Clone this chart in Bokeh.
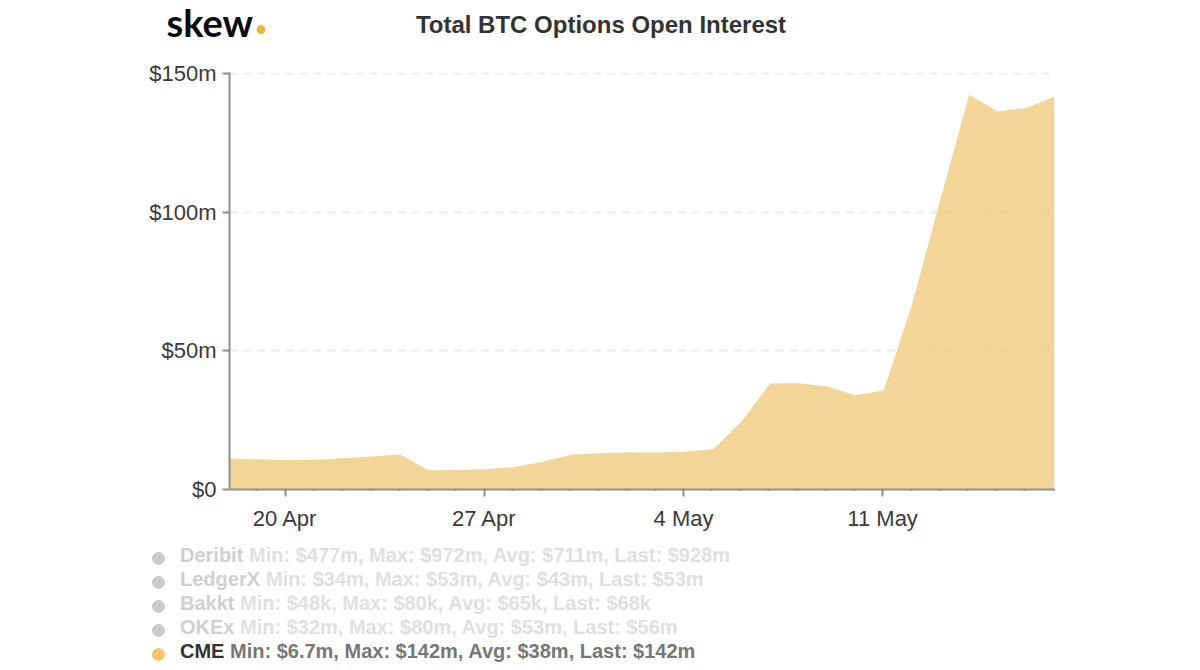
import pandas as pd
from bokeh.core.properties import value
from bokeh.embed import file_html
from bokeh.layouts import column, row
from bokeh.models import ColumnDataSource, FixedTicker, Range1d
from bokeh.plotting import figure
from bokeh.resources import INLINE

dates = pd.date_range("2020-04-18 01:00", "2020-05-17 01:00", freq="D").tolist()
cme = [11.2, 10.9, 10.6, 10.7, 11.3, 11.9, 12.6, 6.9, 7.0, 7.3, 8.1, 10.0, 12.5, 13.1, 13.4, 13.3,
       13.6, 14.5, 24.5, 38.2, 38.3, 37.2, 34.0, 35.8, 67.0, 105.0, 142.3, 136.3, 137.5, 141.7]
y_ticks = [0, 50, 100, 150]
y_labels = ["$0", "$50m", "$100m", "$150m"]
x_ticks = ["2020-04-20", "2020-04-27", "2020-05-04", "2020-05-11"]
x_labels = ["20 Apr", "27 Apr", "4 May", "11 May"]
minor_days = pd.date_range("2020-04-19", "2020-05-17", freq="D").tolist()
exchanges = ["Deribit", "LedgerX", "Bakkt", "OKEx", "CME"]
stats = ["Min: $477m, Max: $972m, Avg: $711m, Last: $928m",
         "Min: $34m, Max: $53m, Avg: $43m, Last: $53m",
         "Min: $48k, Max: $80k, Avg: $65k, Last: $68k",
         "Min: $32m, Max: $80m, Avg: $53m, Last: $56m",
         "Min: $6.7m, Max: $142m, Avg: $38m, Last: $142m"]
title = "Total BTC Options Open Interest"
logo = "skew"

FONT = "Liberation Sans"
W, H0, H1, H2 = 1184, 50, 490, 124
tick_ms = [pd.Timestamp(d).timestamp() * 1000 for d in x_ticks]


def strip(top, height):
    """A blank figure whose coordinates are the page's pixels."""
    f = figure(width=W, height=height, output_backend="svg", toolbar_location=None,
               x_range=Range1d(0, W), y_range=Range1d(top + height, top),
               min_border_left=0, min_border_right=0, min_border_top=0, min_border_bottom=0)
    f.axis.visible = False
    f.grid.visible = False
    f.outline_line_color = None
    return f


head = strip(0, H0)
head.text(x=[600.5], y=[23.5], text=[title], text_font=value(FONT), text_font_size="24px",
          text_font_style="bold", text_color="#333333", text_align="center", text_baseline="middle")
head.text(x=[166], y=[21.5], text=[logo], text_font=value("Lato"), text_font_size="38px",
          text_font_style="bold", text_color="#0a0a0a", text_align="left", text_baseline="middle")
head.scatter(x=[260.5], y=[29], size=8, color="#f0b33c")

# the frame reaches 1px above $150m so that the top grid line is drawn
p = figure(width=W, height=H1, output_backend="svg", toolbar_location=None,
           x_axis_type="datetime",
           x_range=Range1d(dates[0], dates[-1]), y_range=Range1d(0, 150.36),
           min_border_left=229, min_border_right=W - 1054, min_border_top=72 - H0,
           min_border_bottom=H0 + H1 - 489)
p.outline_line_color = None
p.varea(x=dates, y1=[0] * len(dates), y2=cme, fill_color="#f0c776", fill_alpha=0.75)

p.xgrid.visible = False
p.ygrid.ticker = FixedTicker(ticks=y_ticks)
p.ygrid.grid_line_color = "#ececec"
p.ygrid.grid_line_dash = [8, 6]
p.ygrid.grid_line_width = 2

p.yaxis.ticker = FixedTicker(ticks=y_ticks)
p.yaxis.major_label_overrides = dict(zip(y_ticks, y_labels))
p.xaxis.ticker = FixedTicker(ticks=tick_ms, minor_ticks=[d.timestamp() * 1000 for d in minor_days])
p.xaxis.major_label_overrides = dict(zip(tick_ms, x_labels))
for ax in (p.xaxis[0], p.yaxis[0]):
    ax.axis_line_color = "#8f8f8f"
    ax.axis_line_width = 2
    ax.major_tick_line_color = "#8f8f8f"
    ax.major_tick_line_width = 2
    ax.major_label_text_font = FONT
    ax.major_label_text_font_size = "22px"
    ax.major_label_text_color = "#3a3a3a"
p.yaxis.major_tick_in = 0
p.yaxis.major_tick_out = 7
p.yaxis.minor_tick_line_color = None
p.yaxis.major_label_standoff = 6
p.xaxis.major_tick_in = 0
p.xaxis.major_tick_out = 7
p.xaxis.minor_tick_in = 0
p.xaxis.minor_tick_out = 1
p.xaxis.minor_tick_line_color = "#777777"
p.xaxis.minor_tick_line_width = 2
p.xaxis.major_label_standoff = 9

leg = strip(H0 + H1, H2)
row_y = [554, 578, 602, 626, 650]
dot_colors = ["#cccccc", "#cccccc", "#cccccc", "#cccccc", "#f4c670"]
name_colors = ["#d0d0d0", "#d0d0d0", "#d0d0d0", "#d0d0d0", "#333333"]
stat_colors = ["#e0e0e0", "#e0e0e0", "#e0e0e0", "#e0e0e0", "#777777"]
stat_x = [248.5, 265.5, 239.5, 239.5, 229.5]

leg.scatter(x=[158] * 5, y=[y + 4 for y in row_y], size=12, color=dot_colors)
src = ColumnDataSource(dict(x=[179.5] * 5, y=row_y, text=exchanges, c=name_colors))
leg.text(x="x", y="y", text="text", text_color="c", source=src, text_font=value(FONT), text_font_size="20px",
         text_font_style="bold", text_baseline="middle", text_align="left")
src2 = ColumnDataSource(dict(x=stat_x, y=row_y, text=stats, c=stat_colors))
leg.text(x="x", y="y", text="text", text_color="c", source=src2, text_font=value(FONT), text_font_size="20px",
         text_font_style="bold", text_baseline="middle", text_align="left")

layout = column(row(head), row(p), row(leg), spacing=0)
open("out.html", "w").write(file_html(layout, INLINE))
